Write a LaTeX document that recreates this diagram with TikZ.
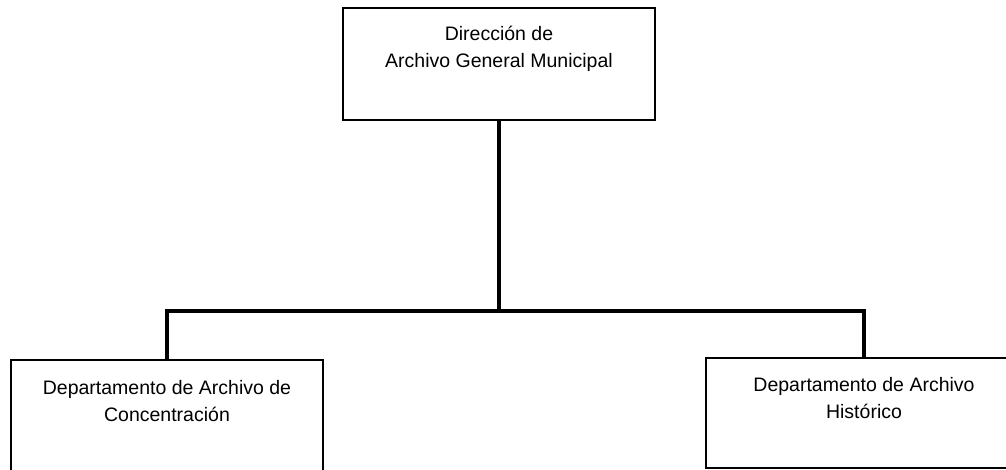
\documentclass[tikz,border=0pt]{standalone}
\usepackage{fontspec}
\setmainfont{Liberation Sans}
\begin{document}
\begin{tikzpicture}[x=1pt,y=-1pt,
		unitbox/.style={draw,line width=2pt,inner sep=0,outer sep=0},
		unittext/.style={anchor=north,inner sep=0,align=center,
			font=\fontsize{19.5}{27}\selectfont},
		trunk/.style={line width=4pt}]
		\useasboundingbox (0,0) rectangle (1006,470);
		\clip (0,0) rectangle (1006,470);
		\begin{scope}[nodes={unitbox}]
		\node (dir) [minimum width=312pt,minimum height=112pt] at (499,64) {};
		\node (conc) [minimum width=312pt,minimum height=130pt] at (167,425) {};
		\node (hist) [minimum width=316pt,minimum height=110pt] at (864,413) {};
		\end{scope}
		\node (dirtext) [unittext,yshift=-18.4pt] at (dir.north) {Dirección de\\Archivo General Municipal};
		\node (conctext) [unittext,yshift=-19.7pt] at (conc.north) {Departamento de Archivo de\\Concentración};
		\node (histtext) [unittext,yshift=-19.4pt] at (hist.north) {Departamento de Archivo\\Histórico};
		\draw[trunk] (dir.south) -- ++(0,191) coordinate (fork);
		\draw[trunk] (conc.north) |- (fork) -| (hist.north);
\end{tikzpicture}
\end{document}
